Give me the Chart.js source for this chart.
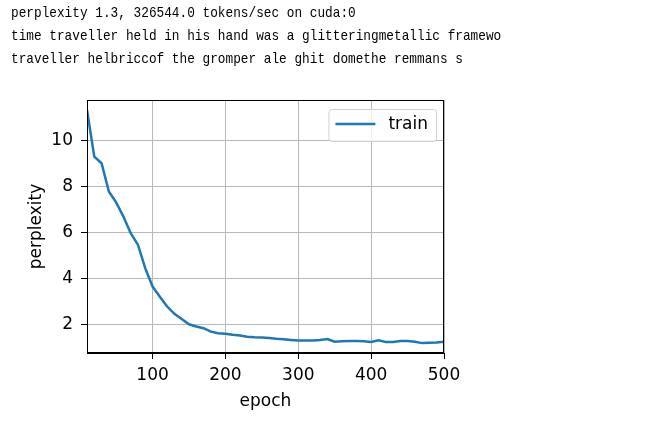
<!DOCTYPE html>
<html>
<head>
<meta charset="utf-8">
<script src="https://cdn.jsdelivr.net/npm/chart.js@4/dist/chart.umd.min.js"></script>
<style>
  html, body { margin: 0; padding: 0; background: #fff; }
  #wrap { position: relative; width: 654px; height: 422px; }
  #c { position: absolute; left: 0; top: 0; }
  #log {
    position: absolute; left: 11px; top: 2px;
    font-family: "Liberation Mono", monospace; font-size: 15px;
    transform: scaleX(0.851); transform-origin: 0 0;
    line-height: 23px; color: #000; white-space: pre;
  }
</style>
</head>
<body>
<div id="wrap">
  <canvas id="c" width="654" height="422"></canvas>
  <div id="log"></div>
</div>
<script>
const LOG_LINES = [
  'perplexity 1.3, 326544.0 tokens/sec on cuda:0',
  'time traveller held in his hand was a glitteringmetallic framewo',
  'traveller helbriccof the gromper ale ghit domethe remmans s',
];

const EPOCHS = [
  10, 20, 30, 40, 50, 60, 70, 80, 90, 100,
  110, 120, 130, 140, 150, 160, 170, 180, 190, 200,
  210, 220, 230, 240, 250, 260, 270, 280, 290, 300,
  310, 320, 330, 340, 350, 360, 370, 380, 390, 400,
  410, 420, 430, 440, 450, 460, 470, 480, 490, 500,
];
const TRAIN_PPL = [
  11.35, 9.32, 9.03, 7.80, 7.33, 6.71, 5.99, 5.48, 4.46, 3.67,
  3.23, 2.80, 2.48, 2.26, 2.03, 1.93, 1.86, 1.71, 1.64, 1.62,
  1.57, 1.54, 1.49, 1.46, 1.45, 1.43, 1.40, 1.38, 1.35, 1.32,
  1.32, 1.32, 1.35, 1.39, 1.27, 1.29, 1.30, 1.30, 1.29, 1.26,
  1.33, 1.26, 1.26, 1.30, 1.30, 1.27, 1.21, 1.23, 1.24, 1.27,
];
const X_TICKS = [100, 200, 300, 400, 500];
const Y_TICKS = [2, 4, 6, 8, 10];

document.getElementById('log').textContent = LOG_LINES.join('\n');

const FONT = "'DejaVu Sans', sans-serif";
const BLUE = '#1f77b4';

// black box around the axes, like matplotlib spines
const frame = {
  id: 'frame',
  afterDatasetsDraw(chart) {
    const { ctx, chartArea: a } = chart;
    ctx.save();
    ctx.strokeStyle = '#000';
    ctx.lineWidth = 1;
    ctx.strokeRect(a.left + 0.5, a.top + 0.5, a.right - a.left - 1, a.bottom - a.top - 1);
    ctx.restore();
  },
};

// matplotlib-style legend in the upper right corner of the axes
const boxLegend = {
  id: 'boxLegend',
  afterDraw(chart) {
    const { ctx, chartArea: a } = chart;
    const ds = chart.data.datasets[0];
    ctx.save();
    ctx.font = `17px ${FONT}`;
    const tw = ctx.measureText(ds.label).width;
    const w = 7 + 40 + 13 + tw + 8;
    const h = 32;
    const x = a.right - 8 - w;
    const y = a.top + 9;
    ctx.beginPath();
    ctx.roundRect(x + 0.5, y + 0.5, w, h, 3);
    ctx.fillStyle = 'rgba(255,255,255,0.8)';
    ctx.fill();
    ctx.strokeStyle = '#d0d0d0';
    ctx.lineWidth = 1;
    ctx.stroke();
    ctx.beginPath();
    ctx.moveTo(x + 7, y + 15);
    ctx.lineTo(x + 47, y + 15);
    ctx.strokeStyle = ds.borderColor;
    ctx.lineWidth = 2.5;
    ctx.stroke();
    ctx.fillStyle = '#000';
    ctx.textBaseline = 'middle';
    ctx.fillText(ds.label, x + 60, y + 16);
    ctx.restore();
  },
};

new Chart(document.getElementById('c'), {
  type: 'line',
  data: {
    datasets: [{
      label: 'train',
      data: EPOCHS.map((e, i) => ({ x: e, y: TRAIN_PPL[i] })),
      borderColor: BLUE,
      borderWidth: 2.5,
      pointRadius: 0,
      tension: 0,
      fill: false,
    }],
  },
  options: {
    responsive: false,
    animation: false,
    layout: { padding: { left: 0, top: 100, right: 210, bottom: 0 } },
    plugins: { legend: { display: false }, tooltip: { enabled: false } },
    scales: {
      x: {
        type: 'linear',
        min: 10,
        max: 500,
        afterBuildTicks: s => { s.ticks = X_TICKS.map(v => ({ value: v })); },
        afterFit: s => { s.height = 69; },
        grid: { color: '#b8b8b8', lineWidth: 1, tickColor: '#000', tickLength: 6 },
        border: { color: '#000', width: 1 },
        ticks: { color: '#000', padding: 6, maxRotation: 0, font: { family: FONT, size: 17 } },
        title: { display: true, text: 'epoch', color: '#000', padding: { top: 10, bottom: 10 }, font: { family: FONT, size: 17 } },
      },
      y: {
        type: 'linear',
        min: 0.78,
        max: 11.78,
        afterBuildTicks: s => { s.ticks = Y_TICKS.map(v => ({ value: v })); },
        afterFit: s => { s.width = 87; },
        grid: { color: '#b8b8b8', lineWidth: 1, tickColor: '#000', tickLength: 6 },
        border: { color: '#000', width: 1 },
        ticks: { color: '#000', padding: 8, font: { family: FONT, size: 17 } },
        title: { display: true, text: 'perplexity', color: '#000', padding: { top: 26, bottom: 26 }, font: { family: FONT, size: 17 } },
      },
    },
  },
  plugins: [frame, boxLegend],
});
</script>
</body>
</html>
